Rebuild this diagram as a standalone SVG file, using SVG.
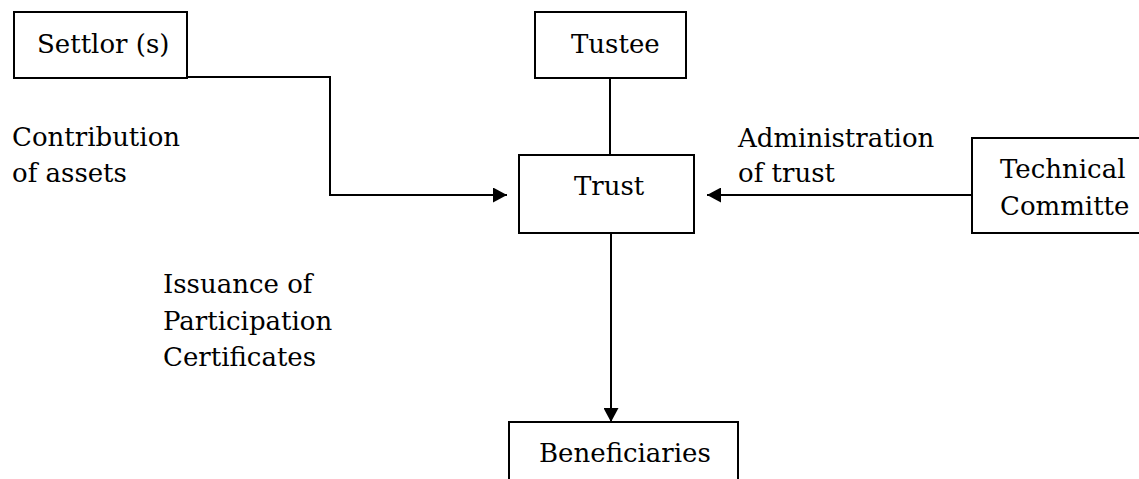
<svg xmlns="http://www.w3.org/2000/svg" width="1139" height="479" viewBox="0 0 1139 479">
<style>
.box{fill:#fff;stroke:#000;stroke-width:2}
.ln{fill:none;stroke:#000;stroke-width:2}
.t{font-family:"Liberation Serif","DejaVu Serif",serif;font-size:32px;fill:#000}
.d{font-family:"DejaVu Serif",serif;font-size:26px;fill:#000}
</style>
<defs>
<marker id="ah" markerWidth="14" markerHeight="15" refX="14" refY="7.5" orient="auto" markerUnits="userSpaceOnUse">
<path d="M0,0 L14,7.5 L0,15 Z" fill="#000"/>
</marker>
</defs>
<rect width="1139" height="479" fill="#fff"/>
<g id="connectors">
<polyline class="ln" points="187,77 330,77 330,195 507,195" marker-end="url(#ah)"/>
<line class="ln" x1="972" y1="195" x2="707" y2="195" marker-end="url(#ah)"/>
<line class="ln" x1="610" y1="78" x2="610" y2="155"/>
<line class="ln" x1="611" y1="233" x2="611" y2="422" marker-end="url(#ah)"/>
</g>
<g id="settlor">
<rect class="box" x="14" y="12" width="173" height="66"/>
<text class="d" x="37" y="53">Settlor (s)</text>
</g>
<g id="tustee">
<rect class="box" x="535" y="12" width="151" height="66"/>
<text class="d" x="571" y="53">Tustee</text>
</g>
<g id="trust">
<rect class="box" x="519" y="155" width="175" height="78"/>
<text class="d" x="574" y="195">Trust</text>
</g>
<g id="technical">
<rect class="box" x="972" y="138" width="180" height="95"/>
<text class="d" x="1000" y="178">Technical</text>
<text class="d" x="1000" y="215">Committe</text>
</g>
<g id="beneficiaries">
<rect class="box" x="509" y="422" width="229" height="70"/>
<text class="d" x="539" y="462">Beneficiaries</text>
</g>
<g id="labels">
<text class="d" x="12" y="146">Contribution</text>
<text class="d" x="12" y="182">of assets</text>
<text class="d" x="738" y="147">Administration</text>
<text class="d" x="738" y="182">of trust</text>
<text class="d" x="163" y="293">Issuance of</text>
<text class="d" x="163" y="330">Participation</text>
<text class="d" x="163" y="366">Certificates</text>
</g>
</svg>
